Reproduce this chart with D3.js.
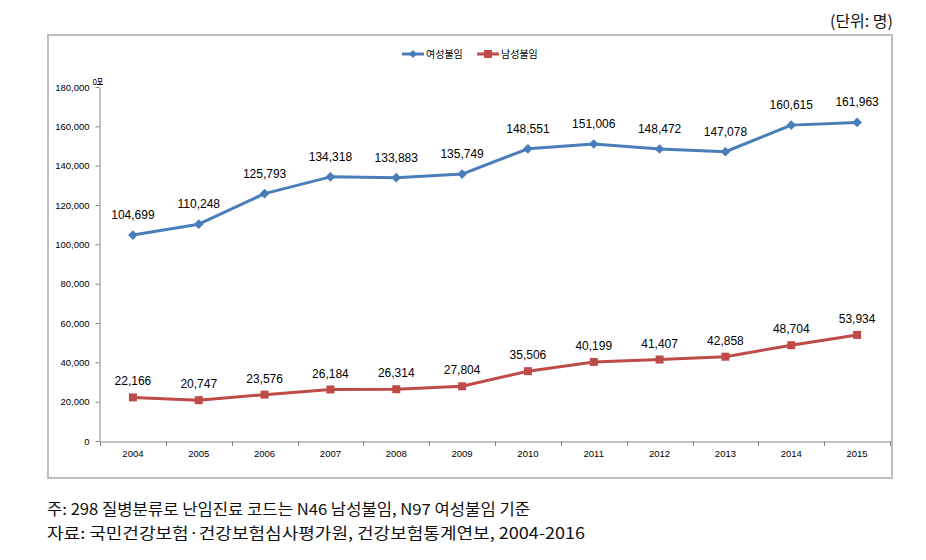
<!DOCTYPE html>
<html><head><meta charset="utf-8">
<script src="https://cdn.jsdelivr.net/npm/d3@7"></script>
<style>body{margin:0;background:#fff;}svg{display:block;}</style>
</head><body>
<svg id="c" width="926" height="560"></svg>
<script>
const years = ["2004","2005","2006","2007","2008","2009","2010","2011","2012","2013","2014","2015"];
const female = [104699,110248,125793,134318,133883,135749,148551,151006,148472,147078,160615,161963];
const male = [22166,20747,23576,26184,26314,27804,35506,40199,41407,42858,48704,53934];
const yTicks = [0,20000,40000,60000,80000,100000,120000,140000,160000,180000];
const seriesNames = ["여성불임","남성불임"];
const notes = ["주: 298 질병분류로 난임진료 코드는 N46 남성불임, N97 여성불임 기준",
               "자료: 국민건강보험·건강보험심사평가원, 건강보험통계연보, 2004-2016"];
const noteWidths = [483, 538];

const svg = d3.select("#c");
const font = "'Liberation Sans', Arial, sans-serif";
const kfont = "'Noto Sans CJK KR', sans-serif";
const blue = "#4a7ebb", red = "#be4b48";

// outer box
svg.append("rect").attr("x",48).attr("y",35).attr("width",844).attr("height",443)
  .attr("fill","none").attr("stroke","#bfbfbf").attr("stroke-width",2);

svg.append("text").attr("x",893).attr("y",27).attr("text-anchor","end")
  .attr("font-family",kfont).attr("font-size",16).attr("fill","#111").text("(단위: 명)");

const x = d3.scaleBand().domain(years).range([100,890]);
const y = d3.scaleLinear().domain([0,180000]).range([441,87]);

// y axis
const ya = svg.append("g").attr("transform","translate(99.5,0)")
  .call(d3.axisLeft(y).tickValues(yTicks).tickSize(4).tickSizeOuter(0).tickFormat(d3.format(",")));
ya.select(".domain").attr("stroke","#868686");
ya.selectAll(".tick line").attr("stroke","#868686");
ya.selectAll("text").attr("font-family",font).attr("font-size",9.5).attr("fill","#000").attr("dx",-3);

// x axis
const xa = svg.append("g").attr("transform","translate(0,441.5)")
  .call(d3.axisBottom(x).tickSize(0).tickSizeOuter(0));
xa.select(".domain").attr("stroke","#868686");
xa.selectAll("text").attr("font-family",font).attr("font-size",9.5).attr("fill","#000").attr("dy",12);
// boundary ticks
const bounds = years.map(d=>x(d)).concat([x.range()[1]]);
svg.append("g").selectAll("line").data(bounds).join("line")
  .attr("x1",d=>Math.round(d)+0.5).attr("x2",d=>Math.round(d)+0.5)
  .attr("y1",441).attr("y2",446).attr("stroke","#868686");

// unit label
svg.append("text").attr("transform","translate(94,77) rotate(90)")
  .attr("font-family",kfont).attr("font-size",10).attr("fill","#000").text("명");

const cx = d => x(d) + x.bandwidth()/2;
const line = d3.line().x((d,i)=>cx(years[i])).y(d=>y(d));

svg.append("path").datum(female).attr("d",line).attr("fill","none")
  .attr("stroke",blue).attr("stroke-width",3).attr("stroke-linejoin","round");
svg.append("path").datum(male).attr("d",line).attr("fill","none")
  .attr("stroke",red).attr("stroke-width",3).attr("stroke-linejoin","round");

svg.append("g").selectAll("path").data(female).join("path")
  .attr("d",d3.symbol(d3.symbolDiamond2,60))
  .attr("transform",(d,i)=>`translate(${cx(years[i])},${y(d)})`).attr("fill",blue);
svg.append("g").selectAll("rect").data(male).join("rect")
  .attr("x",(d,i)=>cx(years[i])-4).attr("y",d=>y(d)-4).attr("width",8).attr("height",8).attr("fill",red);

const fmt = d3.format(",");
svg.append("g").selectAll("text").data(female).join("text")
  .attr("x",(d,i)=>cx(years[i])).attr("y",d=>y(d)-16).attr("text-anchor","middle")
  .attr("font-family",font).attr("font-size",12).attr("fill","#000").text(d=>fmt(d));
svg.append("g").selectAll("text").data(male).join("text")
  .attr("x",(d,i)=>cx(years[i])).attr("y",d=>y(d)-12).attr("text-anchor","middle")
  .attr("font-family",font).attr("font-size",12).attr("fill","#000").text(d=>fmt(d));

// legend
const lg = svg.append("g");
const items = [{n:seriesNames[0],c:blue,x:402},{n:seriesNames[1],c:red,x:477}];
items.forEach(it=>{
  lg.append("line").attr("x1",it.x).attr("x2",it.x+22).attr("y1",54).attr("y2",54)
    .attr("stroke",it.c).attr("stroke-width",3);
  if(it.c===blue){
    lg.append("path").attr("d",d3.symbol(d3.symbolDiamond2,40)).attr("transform",`translate(${it.x+11},54)`).attr("fill",it.c);
  } else {
    lg.append("rect").attr("x",it.x+7).attr("y",50).attr("width",8).attr("height",8).attr("fill",it.c);
  }
  lg.append("text").attr("x",it.x+24).attr("y",58).attr("font-family",kfont).attr("font-size",10)
    .attr("fill","#000").text(it.n);
});

// notes
svg.append("g").selectAll("text").data(notes).join("text")
  .attr("x",47).attr("y",(d,i)=>515+i*24).attr("font-family",kfont).attr("font-size",15.5)
  .attr("textLength",(d,i)=>noteWidths[i]).attr("lengthAdjust","spacingAndGlyphs")
  .attr("fill","#111").text(d=>d);
</script>
</body></html>
